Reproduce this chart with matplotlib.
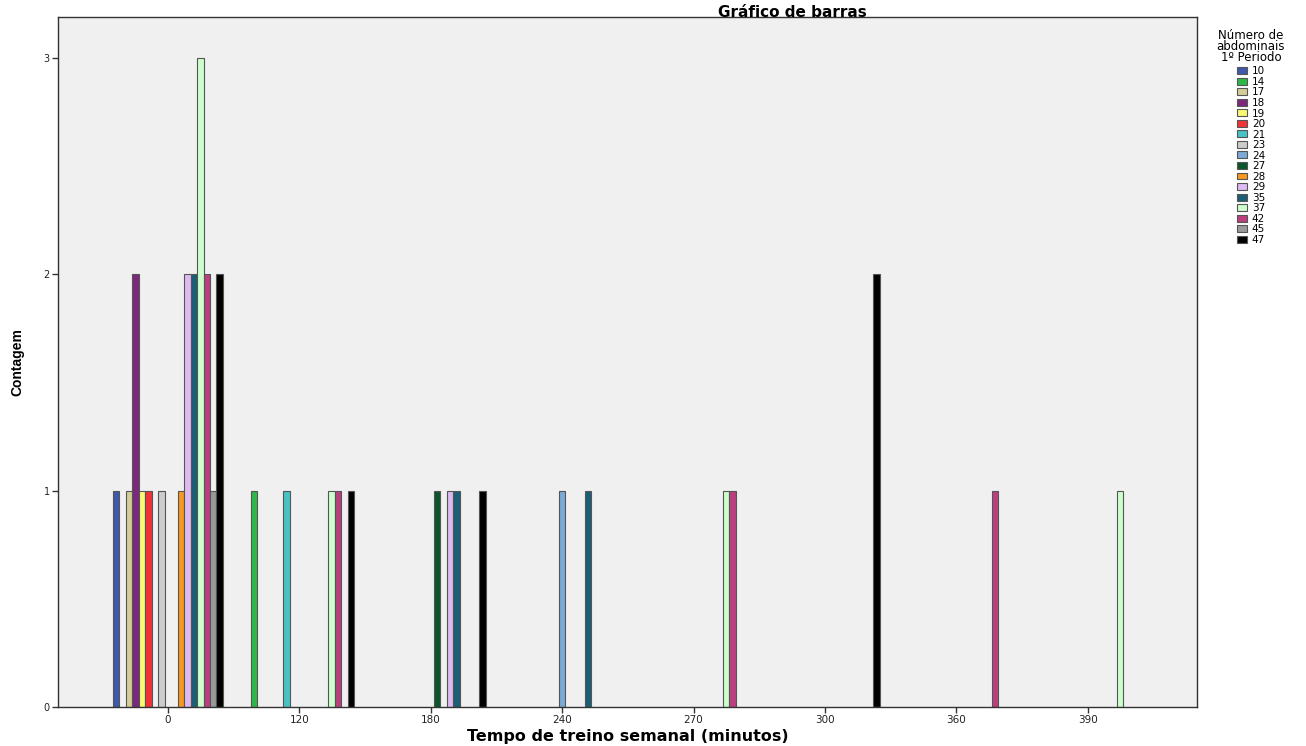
import numpy as np
import matplotlib.pyplot as plt

tempos = ['0', '120', '180', '240', '270', '300', '360', '390']
abdominais = ['10', '14', '17', '18', '19', '20', '21', '23', '24',
              '27', '28', '29', '35', '37', '42', '45', '47']
cores = ['#3E58AC', '#2EB848', '#D3CE97', '#7C287D', '#FBF873', '#EF3338',
         '#48C2C5', '#CCCCCC', '#7AAAD5', '#0A562C', '#F8981D', '#DDBAF1',
         '#1A5F76', '#CCFFCC', '#BB3F7F', '#999999', '#000000']
# contagem por nivel de abdominais (linhas) e tempo (colunas)
contagem = [
    [1, 0, 0, 0, 0, 0, 0, 0],  # 10
    [0, 1, 0, 0, 0, 0, 0, 0],  # 14
    [1, 0, 0, 0, 0, 0, 0, 0],  # 17
    [2, 0, 0, 0, 0, 0, 0, 0],  # 18
    [1, 0, 0, 0, 0, 0, 0, 0],  # 19
    [1, 0, 0, 0, 0, 0, 0, 0],  # 20
    [0, 1, 0, 0, 0, 0, 0, 0],  # 21
    [1, 0, 0, 0, 0, 0, 0, 0],  # 23
    [0, 0, 0, 1, 0, 0, 0, 0],  # 24
    [0, 0, 1, 0, 0, 0, 0, 0],  # 27
    [1, 0, 0, 0, 0, 0, 0, 0],  # 28
    [2, 0, 1, 0, 0, 0, 0, 0],  # 29
    [2, 0, 1, 1, 0, 0, 0, 0],  # 35
    [3, 1, 0, 0, 1, 0, 0, 1],  # 37
    [2, 1, 0, 0, 1, 0, 1, 0],  # 42
    [1, 0, 0, 0, 0, 0, 0, 0],  # 45
    [2, 1, 1, 0, 0, 2, 0, 0],  # 47
]

plt.rcParams['font.family'] = ['DejaVu Sans']
fig = plt.figure(figsize=(13.06, 7.46), dpi=100)
ax = fig.add_axes([0.0444, 0.0523, 0.872, 0.925])
ax.set_facecolor('#F0F0F0')

x = np.arange(len(tempos))
n = len(abdominais)
larg_grupo = 0.837
larg = larg_grupo / n
for i, nome in enumerate(abdominais):
    pos = x - larg_grupo / 2 + larg * (i + 0.5)
    vals = np.array(contagem[i])
    m = vals > 0
    ax.bar(pos[m], vals[m], width=larg, color=cores[i], edgecolor='#555555',
           linewidth=0.8, label=nome)

ax.set_xlim(-0.837, 7.83)
ax.set_ylim(0, 3.19)
ax.set_xticks(x)
ax.set_xticklabels(tempos, fontsize=7.5, color='#222222')
ax.set_yticks([0, 1, 2, 3])
ax.set_yticklabels(['0', '1', '2', '3'], fontsize=7, color='#222222')
ax.tick_params(axis='both', length=4, width=1, color='#333333', pad=2)
for s in ax.spines.values():
    s.set_color('#333333')
    s.set_linewidth(1)

ax.set_xlabel('Tempo de treino semanal (minutos)', fontsize=11.5,
              fontweight='bold', labelpad=3)
ax.set_ylabel('Contagem', fontsize=10, fontweight='bold',
              family=['Liberation Sans Narrow', 'Liberation Sans'],
              labelpad=14)
fig.text(0.607, 0.983, 'Gráfico de barras', ha='center', va='center',
         fontsize=11, fontweight='bold')

leg = ax.legend(loc='upper left', bbox_to_anchor=(1.0175, 0.983), frameon=False,
                title='Número de\nabdominais\n1º Periodo', fontsize=7.5,
                title_fontsize=8.5, handlelength=0.95, handleheight=0.65,
                handletextpad=0.5, labelspacing=0.05, borderaxespad=0.0,
                borderpad=0.0)
leg.get_title().set_multialignment('center')
leg.get_title().set_linespacing(0.8)
leg._legend_box.align = 'center'
leg._legend_box.sep = 2

fig.savefig('out.png', dpi=100)
